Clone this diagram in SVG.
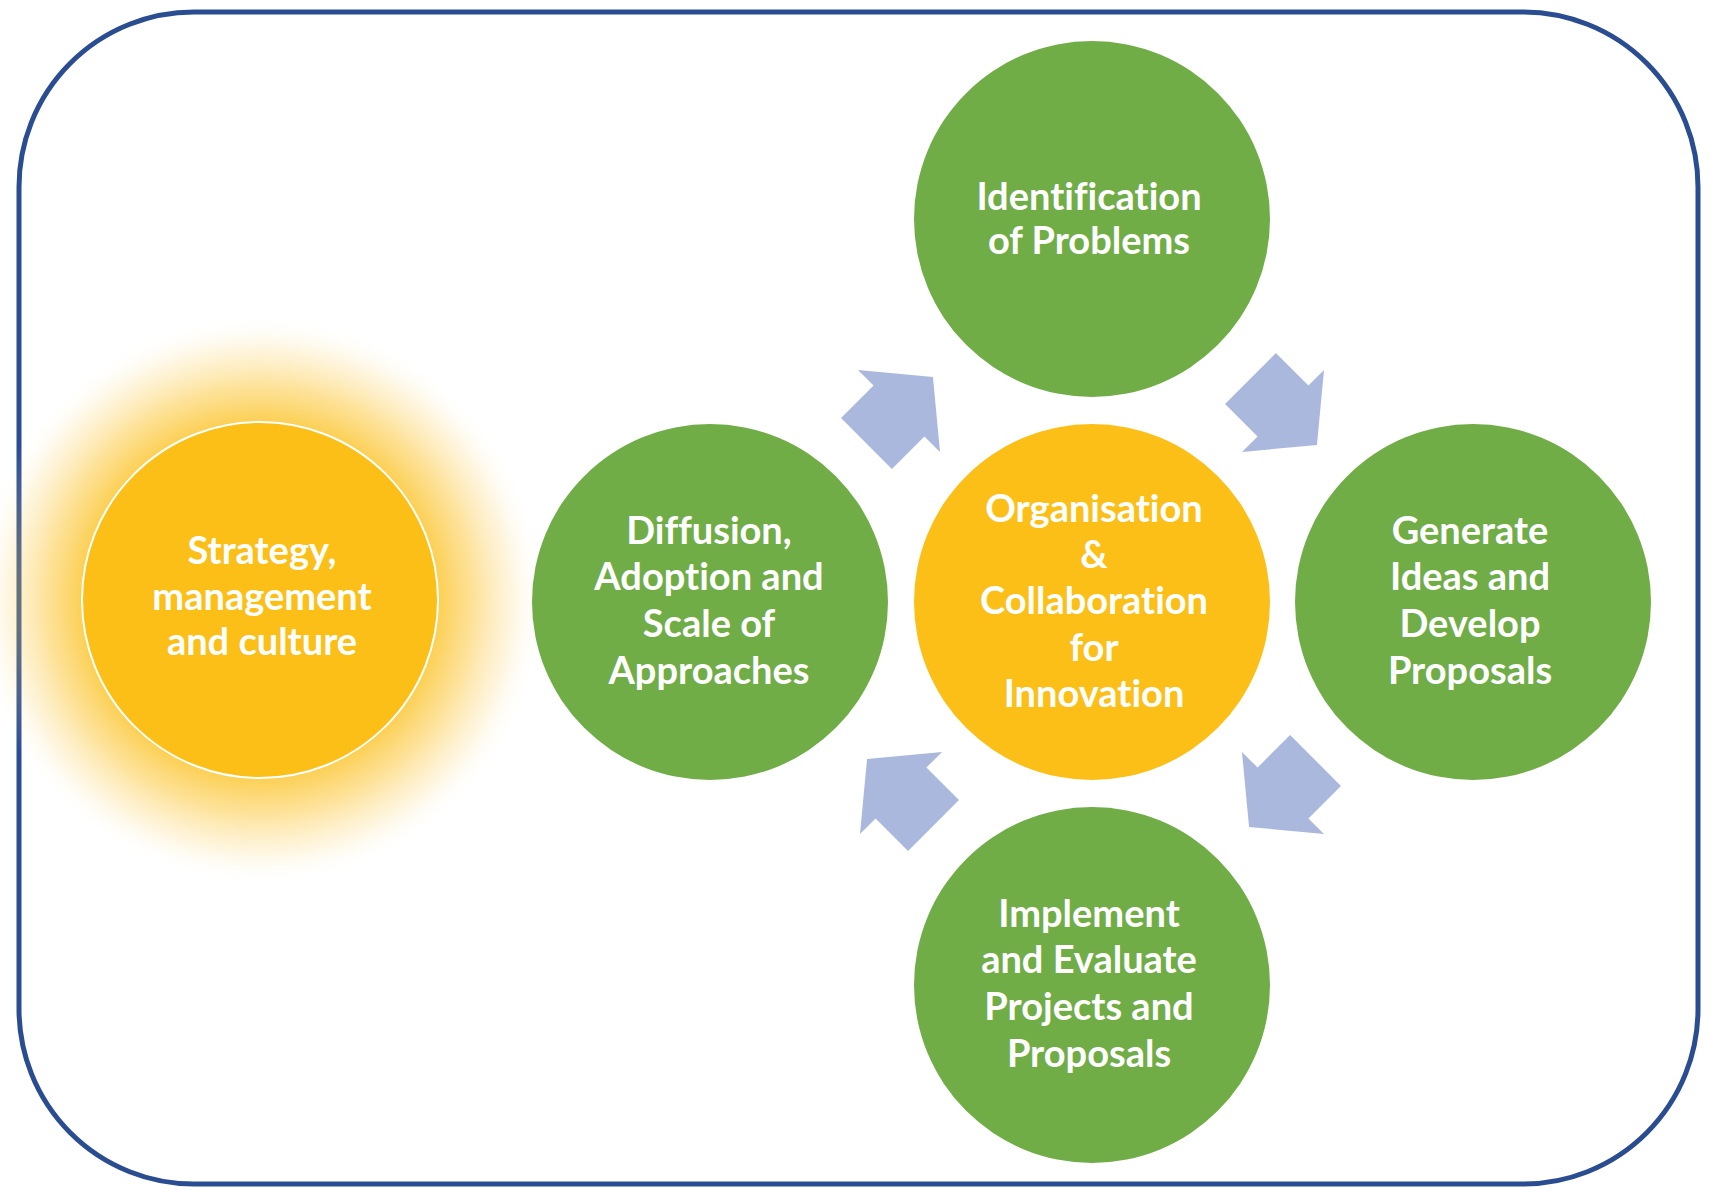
<svg xmlns="http://www.w3.org/2000/svg" width="1716" height="1190" viewBox="0 0 1716 1190">
<defs>
<style>
.green{fill:#70AD47}
.gold{fill:#FBBF17}
.lbl{font-family:Lato,"Liberation Sans",sans-serif;font-weight:bold;font-size:38px;fill:#FFFFFF;text-anchor:middle;dominant-baseline:central;font-variant-ligatures:none;font-feature-settings:"liga" 0}
.arr{fill:#A9B8DC}
</style>
<radialGradient id="glow" cx="0.5" cy="0.5" r="0.5">
<stop offset="0" stop-color="#FBBF17" stop-opacity="0.75"/>
<stop offset="0.62" stop-color="#FBBF17" stop-opacity="0.75"/>
<stop offset="0.75" stop-color="#FBC533" stop-opacity="0.5"/>
<stop offset="0.89" stop-color="#FBD060" stop-opacity="0.18"/>
<stop offset="1" stop-color="#FFFFFF" stop-opacity="0"/>
</radialGradient>
<path id="blk" d="M-46,-36 L0,-36 L0,-58 L48,0 L0,58 L0,36 L-46,36 Z"/>
</defs>
<rect x="0" y="0" width="1716" height="1190" fill="#FFFFFF"/>
<rect id="frame" x="19" y="12" width="1679" height="1172" rx="175" ry="175" fill="none" stroke="#2A4D92" stroke-width="5"/>

<g id="strategy">
<circle cx="260" cy="600" r="285" fill="url(#glow)"/>
<circle class="gold" cx="260" cy="600" r="178" stroke="#FFFFFF" stroke-width="2"/>
<text class="lbl" x="262" y="549">Strategy,</text>
<text class="lbl" x="262" y="595">management</text>
<text class="lbl" x="262" y="640">and culture</text>
</g>

<g id="diffusion">
<circle class="green" cx="710" cy="602" r="178"/>
<text class="lbl" x="709" y="529">Diffusion,</text>
<text class="lbl" x="709" y="575">Adoption and</text>
<text class="lbl" x="709" y="622">Scale of</text>
<text class="lbl" x="709" y="669">Approaches</text>
</g>

<g id="identification">
<circle class="green" cx="1092" cy="219" r="178"/>
<text class="lbl" x="1089" y="195">Identification</text>
<text class="lbl" x="1089" y="239">of Problems</text>
</g>

<g id="generate">
<circle class="green" cx="1473" cy="602" r="178"/>
<text class="lbl" x="1470" y="529">Generate</text>
<text class="lbl" x="1470" y="575">Ideas and</text>
<text class="lbl" x="1470" y="622">Develop</text>
<text class="lbl" x="1470" y="669">Proposals</text>
</g>

<g id="implement">
<circle class="green" cx="1092" cy="985" r="178"/>
<text class="lbl" x="1089" y="912">Implement</text>
<text class="lbl" x="1089" y="958">and Evaluate</text>
<text class="lbl" x="1089" y="1005">Projects and</text>
<text class="lbl" x="1089" y="1052">Proposals</text>
</g>

<g id="organisation">
<circle class="gold" cx="1092" cy="602" r="178"/>
<text class="lbl" x="1094" y="507">Organisation</text>
<text class="lbl" x="1094" y="553">&amp;</text>
<text class="lbl" x="1094" y="599">Collaboration</text>
<text class="lbl" x="1094" y="646">for</text>
<text class="lbl" x="1094" y="692">Innovation</text>
</g>

<g id="connectors">
<use href="#blk" class="arr" transform="translate(899,411) rotate(-45)"/>
<use href="#blk" class="arr" transform="translate(1283,411) rotate(45)"/>
<use href="#blk" class="arr" transform="translate(1283,793) rotate(135)"/>
<use href="#blk" class="arr" transform="translate(901,793) rotate(-135)"/>
</g>
</svg>
